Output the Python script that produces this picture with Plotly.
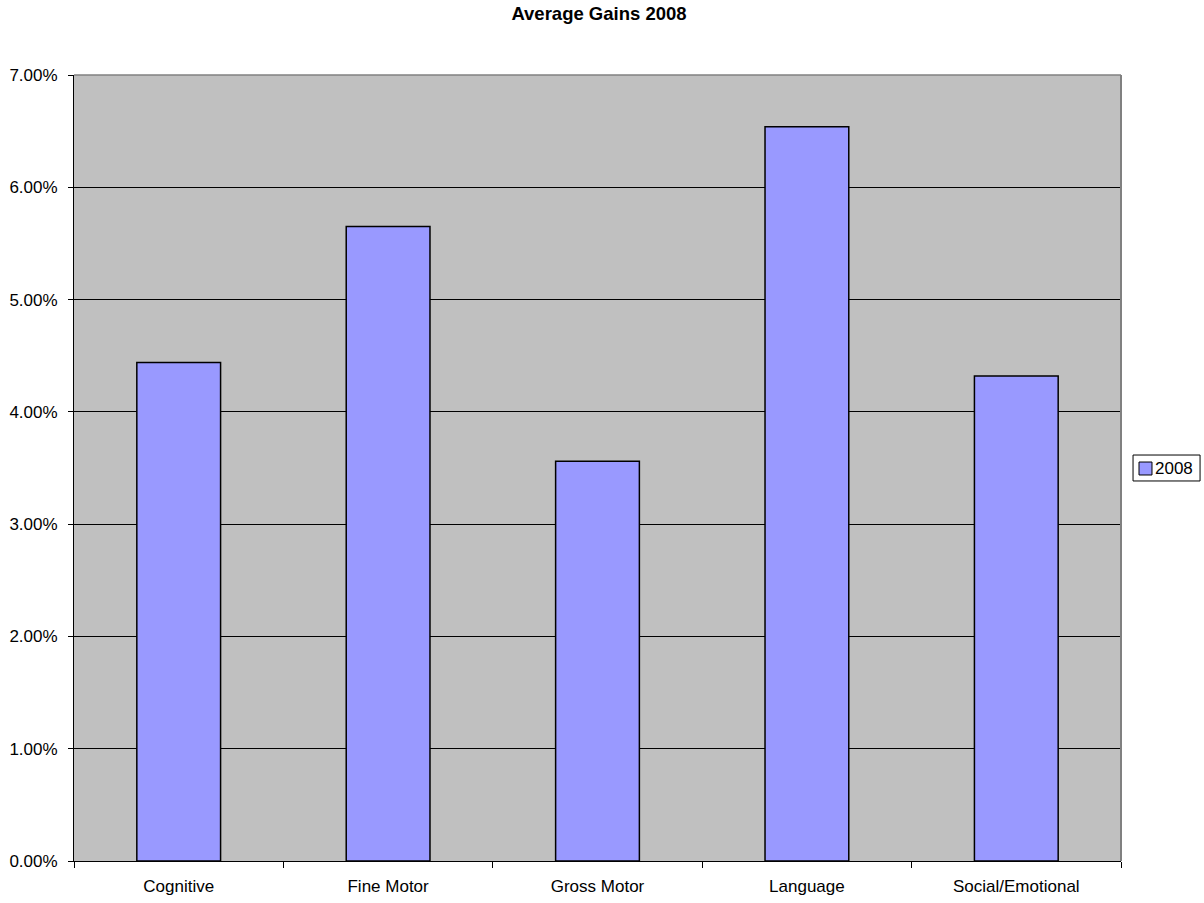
import plotly.graph_objects as go

# Average gains per developmental domain, 2008 (fractions, shown as percent)
domains = ["Cognitive", "Fine Motor", "Gross Motor", "Language", "Social/Emotional"]
gains_2008 = [0.0444, 0.0565, 0.0356, 0.0654, 0.0432]
y_ticks = [0.0, 0.01, 0.02, 0.03, 0.04, 0.05, 0.06, 0.07]
series_name = "2008"

FONT = "Liberation Sans, Arial, sans-serif"
BAR_FILL = "#9999FF"

fig = go.Figure()
fig.add_trace(go.Bar(
    x=domains,
    y=gains_2008,
    name=series_name,
    marker=dict(color=BAR_FILL, line=dict(color="black", width=1.5)),
    showlegend=False,
))

fig.update_layout(
    width=1204,
    height=903,
    margin=dict(l=74, r=83, t=75, b=42, autoexpand=False),
    paper_bgcolor="white",
    plot_bgcolor="#C0C0C0",
    bargap=0.6,
    font=dict(family=FONT, size=17, color="black"),
    title=dict(
        text="<b>Average Gains 2008</b>",
        x=0.4975, xanchor="center",
        y=0.992, yanchor="top",
        font=dict(family=FONT, size=18.5, color="black"),
    ),
)

fig.update_xaxes(
    type="category",
    showline=True, linecolor="black", linewidth=1,
    ticks="outside", ticklen=6, tickcolor="black",
    tickson="boundaries",
    ticklabelstandoff=10,
    showgrid=False,
    tickfont=dict(family=FONT, size=17, color="black"),
)
fig.update_yaxes(
    range=[0, 0.07],
    tickvals=y_ticks,
    tickformat=".2%",
    showline=True, linecolor="black", linewidth=1,
    ticks="outside", ticklen=5, tickcolor="black",
    ticklabelstandoff=7,
    showgrid=True, gridcolor="black", gridwidth=1,
    zeroline=False,
    tickfont=dict(family=FONT, size=17, color="black"),
)

# Grey frame on the top and right edges of the plotting area
fig.add_shape(type="line", xref="paper", yref="paper", x0=0, x1=1, y0=1, y1=1,
              line=dict(color="#808080", width=1.5))
fig.add_shape(type="line", xref="paper", yref="paper", x0=1, x1=1, y0=0, y1=1,
              line=dict(color="#808080", width=2))

# Compact legend box to the right of the plot
fig.add_shape(type="rect", xref="paper", yref="paper",
              x0=1.0115, x1=1.0755, y0=0.4835, y1=0.5165,
              fillcolor="white", line=dict(color="black", width=1))
fig.add_shape(type="rect", xref="paper", yref="paper",
              x0=1.0172, x1=1.0296, y0=0.4911, y1=0.5076,
              fillcolor=BAR_FILL, line=dict(color="black", width=1))
fig.add_annotation(text=series_name, xref="paper", yref="paper",
                   x=1.0305, xanchor="left", y=0.5, yanchor="middle",
                   showarrow=False, font=dict(family=FONT, size=17, color="black"))

fig.write_html("out.html")
